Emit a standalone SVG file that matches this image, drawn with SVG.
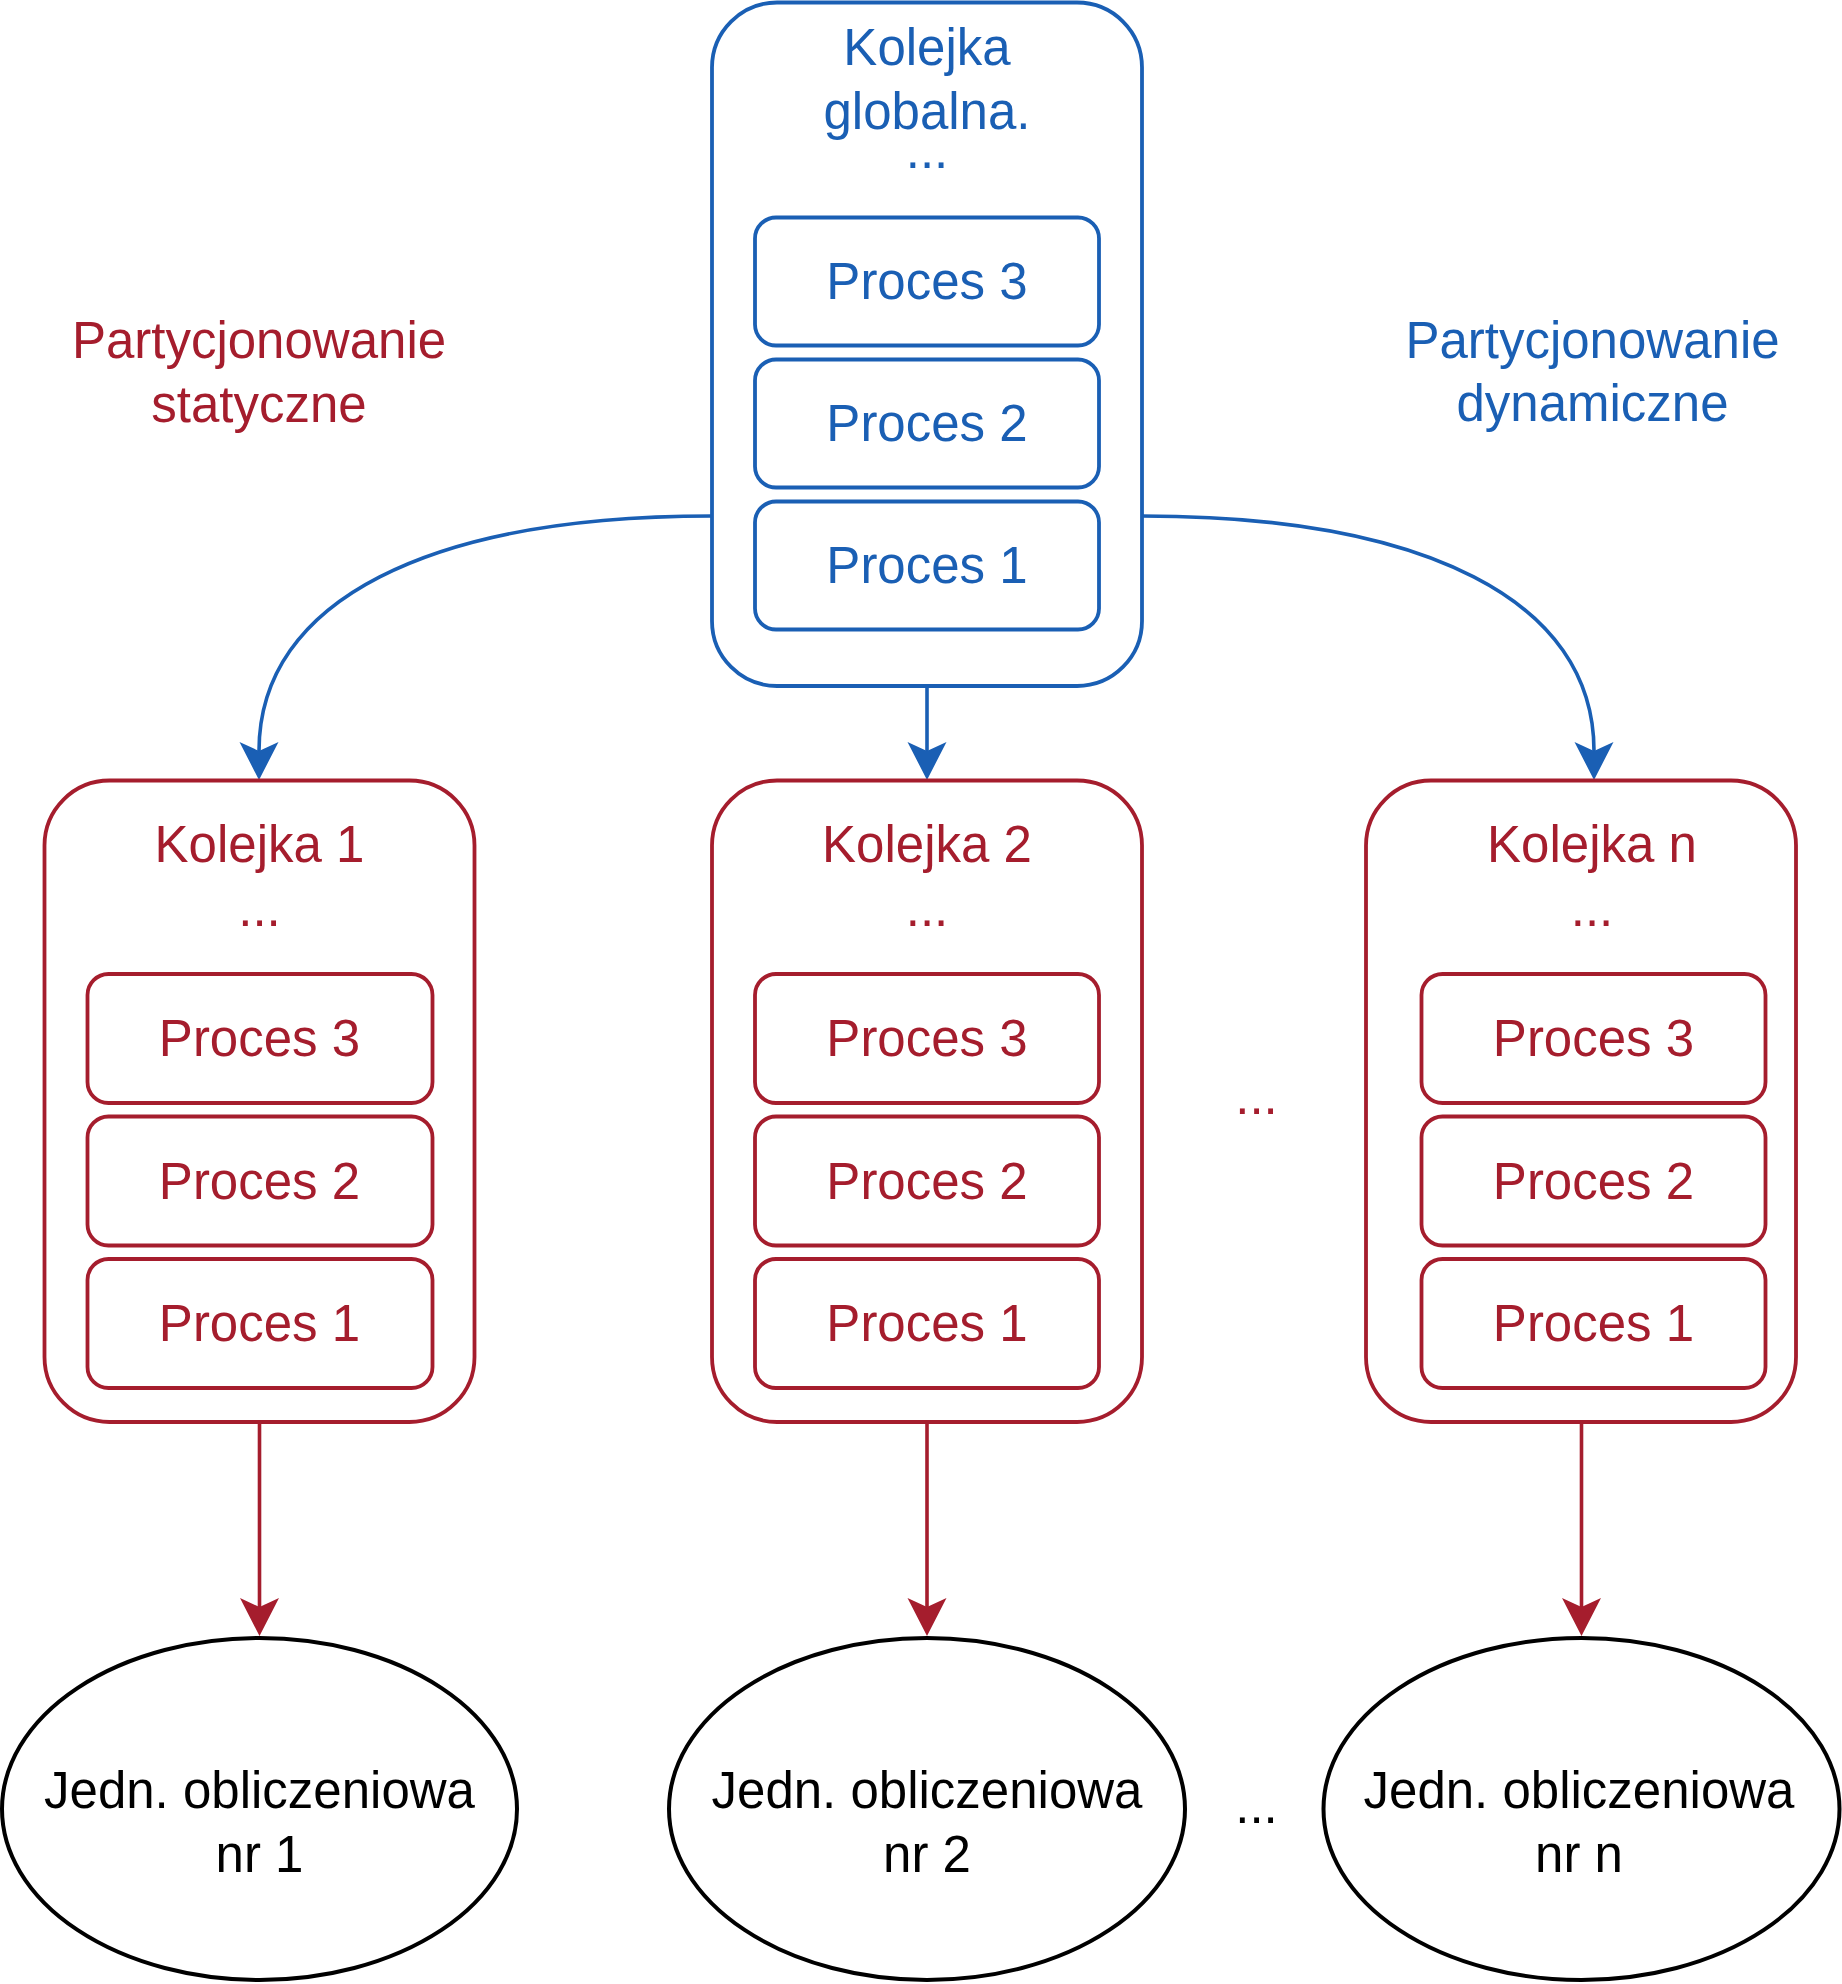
<svg xmlns="http://www.w3.org/2000/svg" width="1842" height="1984" viewBox="0 0 1842 1984">
  <style>
    text { font-family: "Liberation Sans", Arial, Helvetica, sans-serif; font-size: 51px; text-anchor: middle; }
    .blue { fill: #1a5fb4; }
    .red { fill: #a51d2d; }
    .black { fill: #000000; }
    .bq { fill: #ffffff; stroke: #1a5fb4; stroke-width: 3.8; }
    .rq { fill: #ffffff; stroke: #a51d2d; stroke-width: 3.8; }
    .unit { fill: #ffffff; stroke: #000000; stroke-width: 4; }
    .bl { fill: none; stroke: #1a5fb4; stroke-width: 3.6; }
    .rl { fill: none; stroke: #a51d2d; stroke-width: 3.6; }
  </style>
  <defs>
    <marker id="arrBlue" markerUnits="userSpaceOnUse" viewBox="0 -20 40 40" markerWidth="40" markerHeight="40" refX="9" refY="0" orient="auto">
      <path d="M0,-19.5 L38,0 L0,19.5 L9,0 Z" fill="#1a5fb4"/>
    </marker>
    <marker id="arrRed" markerUnits="userSpaceOnUse" viewBox="0 -20 40 40" markerWidth="40" markerHeight="40" refX="9" refY="0" orient="auto">
      <path d="M0,-19.5 L38,0 L0,19.5 L9,0 Z" fill="#a51d2d"/>
    </marker>
  </defs>

  <rect width="1842" height="1984" fill="#ffffff"/>

  <!-- Connectors -->
  <g id="connectors">
    <path class="bl" d="M712,516 C430,516 259,600 259,751" marker-end="url(#arrBlue)"/>
    <path class="bl" d="M1142,516 C1424,516 1594,600 1594,751" marker-end="url(#arrBlue)"/>
    <path class="bl" d="M927,686 L927,751" marker-end="url(#arrBlue)"/>
    <path class="rl" d="M259.5,1422 L259.5,1607" marker-end="url(#arrRed)"/>
    <path class="rl" d="M927,1422 L927,1607" marker-end="url(#arrRed)"/>
    <path class="rl" d="M1581.5,1422 L1581.5,1607" marker-end="url(#arrRed)"/>
  </g>

  <!-- Global queue -->
  <g id="global-queue">
    <rect class="bq" x="712" y="2.5" width="430" height="683.5" rx="65" ry="65"/>
    <text class="blue" x="927" y="64.5">Kolejka</text>
    <text class="blue" x="927" y="129">globalna.</text>
    <text class="blue" x="927" y="168">...</text>
    <g id="global-p3">
      <rect class="bq" x="755" y="217.5" width="344" height="128" rx="21" ry="21"/>
      <text class="blue" x="927" y="299">Proces 3</text>
    </g>
    <g id="global-p2">
      <rect class="bq" x="755" y="359.5" width="344" height="128" rx="21" ry="21"/>
      <text class="blue" x="927" y="441">Proces 2</text>
    </g>
    <g id="global-p1">
      <rect class="bq" x="755" y="501.5" width="344" height="128" rx="21" ry="21"/>
      <text class="blue" x="927" y="583">Proces 1</text>
    </g>
  </g>

  <!-- Labels -->
  <g id="label-static">
    <text class="red" x="259" y="357.5">Partycjonowanie</text>
    <text class="red" x="259" y="421.5">statyczne</text>
  </g>
  <g id="label-dynamic">
    <text class="blue" x="1592.5" y="357.5">Partycjonowanie</text>
    <text class="blue" x="1592.5" y="421">dynamiczne</text>
  </g>

  <!-- Queue 1 -->
  <g id="queue-1">
    <rect class="rq" x="44.5" y="780.5" width="430" height="641.5" rx="65" ry="65"/>
    <text class="red" x="259.5" y="861.5">Kolejka 1</text>
    <text class="red" x="259.5" y="925.5">...</text>
    <g id="q1-p3">
      <rect class="rq" x="87.5" y="974" width="345" height="129" rx="21" ry="21"/>
      <text class="red" x="259.5" y="1056">Proces 3</text>
    </g>
    <g id="q1-p2">
      <rect class="rq" x="87.5" y="1116.5" width="345" height="129" rx="21" ry="21"/>
      <text class="red" x="259.5" y="1198.5">Proces 2</text>
    </g>
    <g id="q1-p1">
      <rect class="rq" x="87.5" y="1259" width="345" height="129" rx="21" ry="21"/>
      <text class="red" x="259.5" y="1341">Proces 1</text>
    </g>
  </g>

  <!-- Queue 2 -->
  <g id="queue-2">
    <rect class="rq" x="712" y="780.5" width="430" height="641.5" rx="65" ry="65"/>
    <text class="red" x="927" y="861.5">Kolejka 2</text>
    <text class="red" x="927" y="925.5">...</text>
    <g id="q2-p3">
      <rect class="rq" x="755" y="974" width="344" height="129" rx="21" ry="21"/>
      <text class="red" x="927" y="1056">Proces 3</text>
    </g>
    <g id="q2-p2">
      <rect class="rq" x="755" y="1116.5" width="344" height="129" rx="21" ry="21"/>
      <text class="red" x="927" y="1198.5">Proces 2</text>
    </g>
    <g id="q2-p1">
      <rect class="rq" x="755" y="1259" width="344" height="129" rx="21" ry="21"/>
      <text class="red" x="927" y="1341">Proces 1</text>
    </g>
  </g>

  <g id="dots-queues">
    <text class="red" x="1256.5" y="1114">...</text>
  </g>

  <!-- Queue n -->
  <g id="queue-n">
    <rect class="rq" x="1366" y="780.5" width="430" height="641.5" rx="65" ry="65"/>
    <text class="red" x="1592" y="861.5">Kolejka n</text>
    <text class="red" x="1592" y="925.5">...</text>
    <g id="qn-p3">
      <rect class="rq" x="1421.5" y="974" width="344" height="129" rx="21" ry="21"/>
      <text class="red" x="1593.5" y="1056">Proces 3</text>
    </g>
    <g id="qn-p2">
      <rect class="rq" x="1421.5" y="1116.5" width="344" height="129" rx="21" ry="21"/>
      <text class="red" x="1593.5" y="1198.5">Proces 2</text>
    </g>
    <g id="qn-p1">
      <rect class="rq" x="1421.5" y="1259" width="344" height="129" rx="21" ry="21"/>
      <text class="red" x="1593.5" y="1341">Proces 1</text>
    </g>
  </g>

  <!-- Compute units -->
  <g id="unit-1">
    <ellipse class="unit" cx="259.5" cy="1809" rx="257.5" ry="171"/>
    <text class="black" x="259.5" y="1807.5">Jedn. obliczeniowa</text>
    <text class="black" x="259.5" y="1872">nr 1</text>
  </g>
  <g id="unit-2">
    <ellipse class="unit" cx="927" cy="1809" rx="258" ry="171"/>
    <text class="black" x="927" y="1807.5">Jedn. obliczeniowa</text>
    <text class="black" x="927" y="1872">nr 2</text>
  </g>
  <g id="dots-units">
    <text class="black" x="1256.5" y="1823">...</text>
  </g>
  <g id="unit-n">
    <ellipse class="unit" cx="1581.5" cy="1809" rx="258" ry="171"/>
    <text class="black" x="1579" y="1807.5">Jedn. obliczeniowa</text>
    <text class="black" x="1579" y="1872">nr n</text>
  </g>
</svg>
